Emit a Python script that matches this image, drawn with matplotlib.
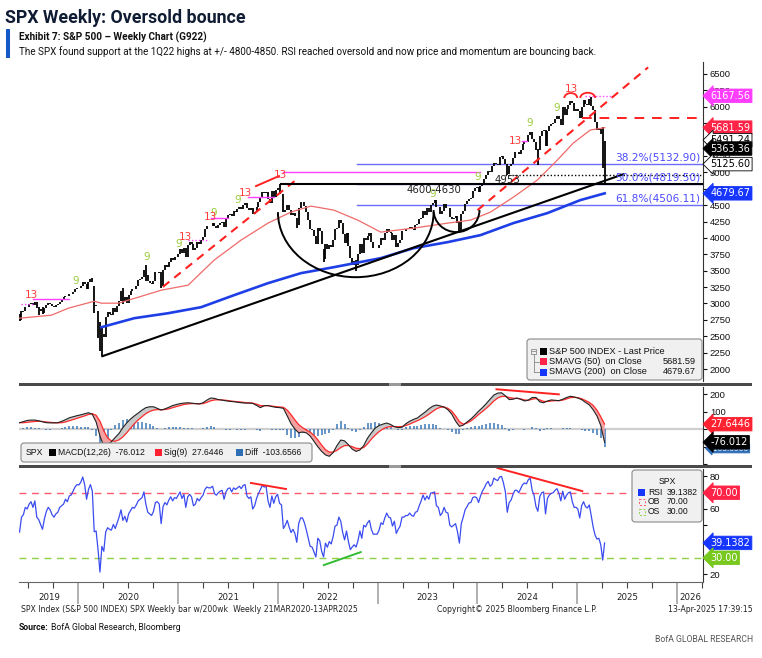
import numpy as np
import pandas as pd
import matplotlib
matplotlib.use("Agg")
import matplotlib.pyplot as plt
import matplotlib.transforms as mtrans
from matplotlib import font_manager
from matplotlib.patches import Arc, FancyBboxPatch, Rectangle
from matplotlib.lines import Line2D

# ---------------- data ----------------
# SPX weekly closes, week ending 31 May 2019 .. 11 Apr 2025
close_2019 = [2752, 2873, 2887, 2950, 2942, 2990, 3014, 2977, 3026, 2932, 2919, 2889, 2847, 2926, 2979, 3007,
              2992, 2962, 2952, 2970, 2986, 3023, 3067, 3093, 3120, 3110, 3141, 3146, 3169, 3221, 3240]
close_2020 = [3235, 3265, 3330, 3295, 3226, 3328, 3380, 3338, 2954, 2972, 2711, 2305, 2541, 2489, 2790, 2875,
              2837, 2831, 2930, 2864, 2955, 3044, 3194, 3041, 3098, 3009, 3130, 3185, 3225, 3216, 3271, 3351,
              3373, 3397, 3508, 3427, 3341, 3319, 3298, 3348, 3477, 3484, 3465, 3270, 3510, 3585, 3558, 3638,
              3699, 3663, 3709, 3703, 3756]
close_2021 = [3825, 3768, 3841, 3714, 3887, 3934, 3907, 3811, 3842, 3943, 3913, 3975, 4020, 4129, 4185, 4180,
              4181, 4233, 4174, 4156, 4204, 4230, 4247, 4166, 4281, 4352, 4370, 4327, 4412, 4395, 4437, 4468,
              4442, 4509, 4535, 4459, 4433, 4455, 4357, 4391, 4471, 4545, 4605, 4697, 4683, 4698, 4595, 4538,
              4712, 4621, 4726, 4766]
close_2022 = [4677, 4663, 4398, 4432, 4501, 4419, 4349, 4385, 4329, 4204, 4463, 4543, 4546, 4488, 4392, 4272,
              4132, 4123, 4024, 3901, 4158, 4109, 3901, 3675, 3912, 3825, 3899, 3863, 3962, 4130, 4145, 4280,
              4228, 4058, 3924, 4067, 3873, 3693, 3586, 3640, 3583, 3752, 3901, 3771, 3993, 3965, 4026, 4072,
              3934, 3852, 3845, 3840]
close_2023 = [3895, 3999, 3973, 4071, 4136, 4090, 4079, 3970, 4046, 3862, 3917, 3971, 4109, 4105, 4138, 4133,
              4169, 4136, 4124, 4192, 4205, 4282, 4299, 4410, 4348, 4450, 4399, 4505, 4536, 4582, 4478, 4464,
              4370, 4406, 4516, 4457, 4450, 4320, 4288, 4308, 4328, 4224, 4117, 4358, 4415, 4514, 4559, 4595,
              4604, 4719, 4755, 4770]
close_2024 = [4697, 4784, 4840, 4891, 4959, 5027, 5006, 5089, 5137, 5124, 5117, 5234, 5254, 5204, 5123, 4967,
              5100, 5128, 5223, 5303, 5305, 5278, 5347, 5432, 5465, 5460, 5567, 5615, 5505, 5459, 5346, 5344,
              5554, 5634, 5648, 5408, 5626, 5703, 5738, 5751, 5815, 5865, 5808, 5729, 5996, 5871, 5969, 6032,
              6090, 6051, 5931, 5971]
close_2025 = [5942, 5827, 5997, 6101, 6041, 6026, 6115, 6013, 5955, 5770, 5639, 5668, 5581, 5074, 5363.36]
first_open = 2826

# weekly extremes where the bar reaches well beyond open/close
wicks = {
    "2019-05-31": (2728, 2836), "2019-06-07": (2744, 2885), "2019-08-09": (2822, 2943),
    "2019-08-23": (2834, 2939), "2020-02-21": (3328, 3394), "2020-02-28": (2855, 3260),
    "2020-03-13": (2478, 2882), "2020-03-20": (2280, 2718), "2020-03-27": (2192, 2637),
    "2020-06-12": (2984, 3233), "2020-09-04": (3350, 3588), "2020-10-30": (3233, 3486),
    "2022-01-07": (4662, 4819), "2022-03-11": (4157, 4303), "2022-06-17": (3637, 3838),
    "2022-10-14": (3492, 3666), "2023-10-27": (4104, 4256), "2024-04-19": (4954, 5127),
    "2024-08-09": (5119, 5363), "2024-09-06": (5402, 5651), "2025-02-21": (6009, 6147),
    "2025-04-04": (5069, 5695), "2025-04-11": (4835, 5481),
}

# weekly RSI(14)
rsi_2019 = [45.8, 55, 56.5, 61, 60, 63, 64.5, 61, 65, 55, 53.5, 50.5, 47.5, 54, 58.5, 61, 59.5, 56.5, 55, 57,
            58, 61, 62, 63, 66, 64.5, 68, 68.6, 71, 73.5, 75]
rsi_2020 = [74.8, 76.5, 79.7, 75, 66, 72, 75, 71, 46, 46.5, 35, 21.2, 37, 34, 45.8, 48.5, 47.5, 47, 50.5, 48,
            51.5, 55, 59.5, 53, 55.5, 52, 57, 59, 61, 60.5, 62.5, 65, 66, 67, 70.5, 63, 58, 57, 56, 58.5,
            64, 64.5, 63, 51, 61.5, 64, 62.5, 65.5, 67.5, 65, 67, 66.5, 68.5]
rsi_2021 = [70.5, 66.5, 69, 61, 67.5, 69, 67.5, 62, 63, 66.5, 65, 67, 68.5, 72, 73.5, 73, 73, 74, 69.5, 68.5,
            70, 71, 71.5, 66, 70.5, 72.5, 73, 70.5, 73, 72, 73, 74, 72.5, 74.5, 75, 68, 66.5, 67.5, 60, 62,
            66.5, 69.5, 72, 74.5, 73.5, 73.8, 65, 61, 68, 63.5, 67.5, 69]
rsi_2022 = [63.5, 62.5, 48, 50, 53, 49, 45.5, 47.5, 45, 39.5, 51, 54.5, 54.5, 51.5, 47, 42, 37, 36.6, 33.5, 30.5,
            42, 40.5, 34, 30.5, 39, 36.5, 40, 38.5, 43, 49.5, 50, 55, 52.5, 45.5, 41, 46.5, 40, 35, 36.6, 38,
            36.6, 40.5, 46.5, 42, 50, 49, 51.5, 53, 47.5, 44.5, 44.5, 44.5]
rsi_2023 = [47, 51.5, 50.5, 54.5, 57.5, 55, 54.5, 49.5, 52.5, 45, 47.5, 49.5, 55, 55, 56, 56, 57.5, 56, 55.5, 58,
            58.5, 62, 65, 68.6, 65.5, 68, 66, 69.8, 70, 70.5, 62, 61, 56, 57.5, 61, 58, 57.5, 50, 49, 50,
            51, 46, 39, 51, 55, 59.5, 61.5, 63.7, 64, 67, 67.5, 67]
rsi_2024 = [64, 68, 71, 73, 75.5, 77, 74, 75, 79, 78, 77.5, 79.7, 80, 76, 70.6, 58, 64, 65.5, 69, 71.5,
            71.5, 70, 72.5, 75, 76, 75.5, 78, 79, 71.5, 68.5, 61.5, 58.6, 67.6, 70, 70.5, 57, 66.5, 68.6, 69.6, 70,
            71.5, 72.5, 69.6, 65, 71, 66, 68.5, 70, 70.5, 64.5, 61, 61]
rsi_2025 = [60, 54.5, 62, 64.5, 61.5, 60.6, 62.5, 56, 49, 44, 41.5, 42, 38, 28.6, 39.1382]

# MACD(12,26) and Sig(9), every second week from 31 May 2019
macd_line = [36, 42, 49, 51, 51, 47, 41, 36, 35, 35,
             36, 44, 53, 64, 70, 76, 81, 87, 93, 84,
             40, -40, -98, -100, -72, -48, -25, 8, 35, 57,
             75, 91, 108, 122, 127, 127, 118, 108, 115, 124,
             134, 140, 145, 148, 150, 148, 145, 143, 150, 165,
             177, 175, 168, 165, 161, 158, 156, 153, 150, 148,
             148, 146, 135, 122, 133, 134, 128, 124, 122, 118,
             75, 30, 0, -22, -17, -22, -40, -70, -101, -128,
             -148, -156, -135, -95, -63, -68, -90, -115, -128, -120,
             -95, -52, -22, 5, 20, 28, 34, 26, 13, 8,
             10, 30, 44, 55, 63, 80, 96, 115, 130, 137,
             132, 125, 110, 85, 45, 15, 22, 40, 57, 78,
             102, 122, 145, 170, 194, 205, 207, 190, 168, 170,
             177, 170, 160, 165, 180, 180, 155, 150, 160, 166,
             164, 162, 170, 180, 187, 183, 177, 168, 152, 138,
             110, 75, 20, -76.012]
sig_line = [36,
            36, 38, 41, 43, 44, 43, 40, 38, 36, 35,
            36, 40, 47, 54, 61, 68, 75, 83, 88, 78,
            45, -10, -50, -68, -70, -62, -45, -22, 5, 30,
            52, 70, 88, 100, 108, 111, 110, 111, 115, 122,
            128, 134, 140, 143, 145, 145, 144, 145, 152, 161,
            166, 167, 166, 164, 161, 158, 156, 154, 151, 150,
            148, 142, 134, 133, 133, 131, 128, 126, 124, 108,
            82, 52, 25, 8, -6, -18, -36, -62, -92, -118,
            -132, -132, -122, -106, -95, -94, -101, -110, -112, -106,
            -85, -58, -35, -15, 0, 10, 14, 14, 13, 14,
            20, 28, 38, 47, 58, 70, 84, 100, 115, 124,
            126, 118, 102, 75, 42, 28, 34, 46, 63, 83,
            100, 118, 138, 160, 177, 186, 186, 180, 176, 175,
            172, 166, 164, 170, 174, 166, 158, 157, 160, 162,
            162, 165, 172, 179, 181, 179, 173, 163, 152, 135,
            108, 70, 27.6446]

# moving averages (decimal year, level)
sma50_t = [2019.41, 2019.73, 2019.90, 2020.16, 2020.23, 2020.40, 2020.60, 2020.83, 2021.10, 2021.36, 2021.63,
           2021.90, 2022.13, 2022.33, 2022.56, 2022.80, 2023.03, 2023.36, 2023.70, 2023.93, 2024.13, 2024.36,
           2024.60, 2024.80, 2024.96, 2025.13, 2025.275]
sma50_v = [2775, 2821, 2928, 3034, 3004, 3004, 3095, 3202, 3279, 3660, 3966, 4225, 4393, 4485, 4424, 4271,
           4088, 4149, 4225, 4271, 4393, 4622, 4882, 5187, 5447, 5645, 5681.59]
sma200_t = [2020.23, 2020.56, 2020.90, 2021.23, 2021.56, 2021.90, 2022.23, 2022.56, 2023.03, 2023.36, 2023.70,
            2024.03, 2024.36, 2024.70, 2025.03, 2025.275]
sma200_v = [2637, 2775, 2851, 2943, 3126, 3309, 3462, 3553, 3691, 3843, 3935, 4042, 4226, 4378, 4576, 4679.67]

# DeMark-style count labels
td9_t = [2019.97, 2020.68, 2021.01, 2021.36, 2021.60, 2023.55, 2024.00, 2024.52, 2024.79]
td9_v = [3340, 3706, 3905, 4378, 4576, 4668, 4927, 5752, 5981]
td13_t = [2019.53, 2021.07, 2021.32, 2021.67, 2022.03, 2024.38, 2024.94]
td13_v = [3126, 4019, 4317, 4683, 4958, 5477, 6271]
# magenta count levels: start, end, level, dotted
td_levels = [(2019.43, 2019.55, 2990, True), (2019.55, 2019.91, 3065, False), (2021.10, 2021.31, 3966, True),
             (2021.33, 2021.50, 4302, False), (2021.70, 2021.96, 4622, False), (2022.05, 2024.03, 5004, False),
             (2024.45, 2024.50, 5477, False), (2025.08, 2025.35, 6167.56, True)]

fib_names = ["38.2%", "50.0%", "61.8%"]
fib_vals = [5132.90, 4819.50, 4506.11]
support_2022 = 4818
low_apr24 = 4953
neckline = 5835

main_tags = [("6167.56", 6167.56, "#ff3dff", "white"), ("5681.59", 5681.59, "#ff2447", "white"),
             ("5491.24", 5491.24, "white", "black"), ("5363.36", 5363.36, "black", "white"),
             ("5125.60", 5125.60, "white", "black"), ("4679.67", 4679.67, "#1636ff", "white")]
macd_tags = [("-103.6566", -103.6566, "#2f6db5", "white"), ("27.6446", 27.6446, "#ff2030", "white"),
             ("-76.012", -76.012, "black", "white")]
rsi_tags = [("70.00", 70, "#ff2447", "white"), ("39.1382", 39.1382, "#1636ff", "white"),
            ("30.00", 30, "#78c81e", "white")]

# ---------------- derived arrays ----------------
closes = np.array(close_2019 + close_2020 + close_2021 + close_2022 + close_2023 + close_2024 + close_2025, float)
rsi = np.array(rsi_2019 + rsi_2020 + rsi_2021 + rsi_2022 + rsi_2023 + rsi_2024 + rsi_2025)
weeks = pd.date_range("2019-05-31", periods=len(closes), freq="W-FRI")
t = np.asarray(weeks.year + (weeks.dayofyear - 1) / 365.25)
opens = np.concatenate([[first_open], closes[:-1]])
lo = np.minimum(opens, closes)
hi = np.maximum(opens, closes)
for d, (l, h) in wicks.items():
    k = weeks.get_loc(pd.Timestamp(d))
    lo[k], hi[k] = l, h
macd = np.array(macd_line)
sig = np.array(sig_line)
tm = t[::2]

# ---------------- figure ----------------
names = {f.name for f in font_manager.fontManager.ttflist}
HEAD = "Roboto" if "Roboto" in names else "Liberation Sans"
BB = "Liberation Sans"
plt.rcParams["font.family"] = ["DejaVu Sans"]

W, H = 762, 658
fig = plt.figure(figsize=(W / 100, H / 100), dpi=100)
pxT = mtrans.Affine2D().scale(1 / W, -1 / H).translate(0, 1) + fig.transFigure


def px_axes(x0, y0, x1, y1):
    return fig.add_axes([x0 / W, 1 - y1 / H, (x1 - x0) / W, (y1 - y0) / H])


ax = px_axes(19, 62, 703, 381)
axm = px_axes(19, 387, 703, 464)
axr = px_axes(19, 469, 703, 582)
XL = (2019.405, 2026.26)

for a in (ax, axm, axr):
    a.set_xlim(*XL)
    a.yaxis.tick_right()
    for s in ("left", "top", "bottom"):
        a.spines[s].set_visible(False)
    a.spines["right"].set_color("#333333")
    a.spines["right"].set_linewidth(0.8)
    a.tick_params(axis="y", labelsize=6.8, length=3, width=0.8, pad=2, colors="#111111")
for a in (ax, axm):
    a.tick_params(axis="x", bottom=False, labelbottom=False)


def tag(a, text, val, fc, tc, size=7):
    a.annotate(text, xy=(1, val), xycoords=a.get_yaxis_transform(), xytext=(5.2, 0),
               textcoords="offset points", ha="left", va="center", fontsize=size, color=tc,
               zorder=30, annotation_clip=False,
               bbox=dict(boxstyle="larrow,pad=0.18", fc=fc, ec="black" if fc == "white" else fc, lw=0.6))


# ---- main price panel ----
ax.set_ylim(1817, 6683)
ticks_main = list(range(2000, 6501, 250))
ax.set_yticks(ticks_main)
# labels sitting under the last-value tags are hidden in the original
ax.set_yticklabels(["" if v in (5750, 5500) else str(v) for v in ticks_main], fontfamily=BB)
ax.vlines(t, lo, hi, color="black", lw=1.3, zorder=3)
ax.plot(sma50_t, sma50_v, color="#f06a6a", lw=0.9, zorder=4)
ax.plot(sma200_t, sma200_v, color="#1f3fe6", lw=1.9, zorder=4)

red = "#ff2020"
ax.plot([2020.847, 2022.18], [3253, 4882], color=red, lw=1.5, ls=(0, (4, 3)), zorder=5)
ax.plot([2024.0, 2025.71], [4423, 6602], color=red, lw=1.5, ls=(0, (4, 3)), zorder=5, clip_on=False)
ax.plot([2021.78, 2022.01], [4790, 4943], color=red, lw=1.4, zorder=5)
ax.plot([2025.05, XL[1]], [neckline, neckline], color=red, lw=1.4, ls=(0, (5, 4)), zorder=5)
ax.add_patch(Arc((2024.935, 6134), 0.13, 150, theta1=0, theta2=180, color=red, lw=1.3, zorder=6))
ax.add_patch(Arc((2025.105, 6134), 0.15, 160, theta1=0, theta2=180, color=red, lw=1.3, zorder=6))

ax.plot([2020.24, 2025.46], [2195, 4970], color="black", lw=1.5, zorder=5)
ax.plot([2022.03, XL[1]], [support_2022, support_2022], color="black", lw=1.5, zorder=5)
ax.plot([2024.28, XL[1]], [low_apr24, low_apr24], color="black", lw=1.0, ls=(0, (1, 1.5)), zorder=5)
ax.add_patch(Arc((2022.78, 4393), 1.56, 1985, theta1=180, theta2=360, color="black", lw=1.4, zorder=5))
ax.add_patch(Arc((2023.79, 4424), 0.46, 672, theta1=180, theta2=360, color="black", lw=1.4, zorder=5))

for x0, x1, lv, dotted in td_levels:
    ax.plot([x0, x1], [lv, lv], color="#ff40ff", lw=1.0, ls=(0, (1, 1.5)) if dotted else "-", zorder=4)

for name, v in zip(fib_names, fib_vals):
    ax.plot([2022.79, XL[1]], [v, v], color="#6c6cff", lw=1.0, zorder=2)
    ax.annotate(f"{name}({v:.2f})", xy=(2026.23, v), xytext=(0, 1), textcoords="offset points",
                ha="right", va="bottom", fontsize=7.6, color="#4b4bff", zorder=6)

for x, v in zip(td9_t, td9_v):
    ax.text(x, v, "9", color="#9ccc3c", fontsize=7.5, ha="center", va="center", zorder=7)
for x, v in zip(td13_t, td13_v):
    ax.text(x, v, "13", color="#ff3a3a", fontsize=7.5, ha="center", va="center", zorder=7)
ax.text(2023.56, 4729, "4600-4630", fontsize=7.3, color="#222222", ha="center", va="center", zorder=7)
ax.text(2024.30, 4885, "4953", fontsize=7.3, color="#222222", ha="center", va="center", zorder=7)

for text, v, fc, tc in main_tags:
    tag(ax, text, v, fc, tc)

# ---- MACD panel ----
axm.set_ylim(-200, 240)
axm.set_yticks([-200, -100, 0, 100, 200])
axm.set_yticklabels(["", "", "0", "100", "200"], fontfamily=BB)
axm.axhline(0, color="#cfcfcf", lw=1.6, zorder=0)
axm.vlines(tm, 0, macd - sig, color="#3a78b8", lw=1.1, zorder=1)
axm.fill_between(tm, macd, sig, where=macd >= sig, interpolate=True, color="#c9c9c9", lw=0, zorder=2)
axm.fill_between(tm, macd, sig, where=macd < sig, interpolate=True, color="#f5a0a0", lw=0, zorder=2)
axm.plot(tm, sig, color="#ff2a2a", lw=0.9, zorder=3)
axm.plot(tm, macd, color="#222222", lw=0.8, zorder=4)
axm.plot([2024.19, 2024.815], [227, 198], color=red, lw=1.4, zorder=5, clip_on=False)
tag(axm, macd_tags[0][0], macd_tags[0][1] - 8, macd_tags[0][2], macd_tags[0][3], size=5.4)
for text, v, fc, tc in macd_tags[1:]:
    tag(axm, text, v, fc, tc)

# ---- RSI panel ----
axr.set_ylim(15.1, 84.6)
axr.set_yticks([20, 40, 60, 80])
axr.set_yticklabels(["20", "", "60", "80"], fontfamily=BB)
axr.set_yticks([30, 50, 70], minor=True)
axr.tick_params(axis="y", which="minor", length=3, width=0.8, right=True, left=False)
axr.plot(t, rsi, color="#3a4cf0", lw=0.9, zorder=3)
axr.axhline(70, color="#ff5a6e", lw=1.0, ls=(0, (5, 4)), zorder=2)
axr.axhline(30, color="#8fd147", lw=1.0, ls=(0, (5, 4)), zorder=2)
axr.plot([2021.73, 2022.08], [76, 72.3], color=red, lw=1.4, zorder=4)
axr.plot([2022.46, 2022.83], [25.5, 33.5], color="#33bb33", lw=1.4, zorder=4)
axr.plot([2024.20, 2025.05], [85.2, 71], color=red, lw=1.4, zorder=4, clip_on=False)
for text, v, fc, tc in rsi_tags:
    tag(axr, text, v, fc, tc)

axr.spines["bottom"].set_visible(True)
axr.spines["bottom"].set_color("#666666")
axr.spines["bottom"].set_linewidth(0.8)
axr.set_xticks(range(2020, 2027))
axr.set_xticklabels([])
axr.set_xticks(np.arange(2019.5, 2026.3, 0.25), minor=True)
axr.tick_params(axis="x", which="major", length=16, width=1.3, color="#aaaaaa")
axr.tick_params(axis="x", which="minor", length=4, width=0.8, color="#444444")
bx = mtrans.blended_transform_factory(axr.transData, axr.transAxes)
year_pos = [2019.71, 2020.5, 2021.5, 2022.5, 2023.5, 2024.5, 2025.5, 2026.13]
for yv, xp in zip(range(2019, 2027), year_pos):
    axr.text(xp, -0.14, str(yv), transform=bx, ha="center", va="center", fontsize=6.2, color="#222222")

# ---- separators ----
for yy in (382.5, 464.5):
    fig.add_artist(Rectangle((19, yy), 733, 3, transform=pxT, color="#4a4a4a", lw=0))
    fig.add_artist(Rectangle((389, yy), 12, 3, transform=pxT, color="#9a9a9a", lw=0))

# ---- legends ----
legkw = dict(transform=pxT, fontfamily=BB, fontsize=6.6, color="#111111", va="center")
fig.add_artist(FancyBboxPatch((527, 339), 175, 41, boxstyle="round,pad=0,rounding_size=3", transform=pxT,
                              fc="#f0f0f0", ec="#8a8a8a", lw=0.8))
rows = [(351, "black", "S&P 500 INDEX - Last Price", ""),
        (361.5, "#ff2447", "SMAVG (50)  on Close", "5681.59"),
        (372, "#1636ff", "SMAVG (200)  on Close", "4679.67")]
fig.add_artist(Rectangle((531, 348.5), 5, 5, transform=pxT, fc="none", ec="#888888", lw=0.6))
fig.add_artist(Line2D([532, 535], [351, 351], transform=pxT, color="#888888", lw=0.6))
fig.add_artist(Line2D([533.5, 533.5], [353.5, 372], transform=pxT, color="#888888", lw=0.6))
for ry in (361.5, 372):
    fig.add_artist(Line2D([533.5, 539], [ry, ry], transform=pxT, color="#888888", lw=0.6))
for ry, c, lab, val in rows:
    fig.add_artist(Rectangle((540, ry - 3.5), 7, 7, transform=pxT, color=c, lw=0))
    fig.text(549, ry, lab, **legkw)
    if val:
        fig.text(696, ry, val, ha="right", **legkw)

smallkw = dict(legkw, fontsize=6.2)
fig.add_artist(FancyBboxPatch((21, 443), 291, 19, boxstyle="round,pad=0,rounding_size=3", transform=pxT,
                              fc="#f0f0f0", ec="#8a8a8a", lw=0.8))
my = 452.5
fig.text(26, my, "SPX", **smallkw)
for sx, c in ((49, "black"), (155, "#ff2030"), (236, "#2f6db5")):
    fig.add_artist(Rectangle((sx, my - 3.5), 7, 7, transform=pxT, color=c, lw=0))
for sx, s in ((58, "MACD(12,26)  -76.012"), (164, "Sig(9)  27.6446"), (245, "Diff  -103.6566")):
    fig.text(sx, my, s, **smallkw)

fig.add_artist(FancyBboxPatch((632, 470), 70, 52, boxstyle="round,pad=0,rounding_size=3", transform=pxT,
                              fc="#f0f0f0", ec="#8a8a8a", lw=0.8))
fig.text(667, 481, "SPX", ha="center", **smallkw)
fig.add_artist(Rectangle((638, 489), 7, 7, transform=pxT, color="#1636ff", lw=0))
fig.add_artist(Rectangle((638.5, 499), 6, 6, transform=pxT, fc="none", ec="#ff5a6e", lw=0.7, ls=(0, (2, 2))))
fig.add_artist(Rectangle((638.5, 509), 6, 6, transform=pxT, fc="none", ec="#8fd147", lw=0.7, ls=(0, (2, 2))))
for ry, a_, b_ in ((492.5, "RSI", "39.1382"), (502, "OB", "70.00"), (512, "OS", "30.00")):
    fig.text(648, ry, a_, **smallkw)
    fig.text(667, ry, b_, **smallkw)

# ---- header / footer ----
navy = "#101c33"
fig.text(5, 18, "SPX Weekly: Oversold bounce", transform=pxT, fontfamily=HEAD, fontsize=12.8,
         fontweight="bold", color=navy, va="center")
fig.add_artist(Rectangle((6, 29), 4, 29, transform=pxT, color="#1558c8", lw=0))
fig.text(19, 37, "Exhibit 7: S&P 500 \u2013 Weekly Chart (G922)", transform=pxT, fontfamily=HEAD,
         fontsize=7.2, fontweight="bold", color="#111111", va="center")
fig.text(19, 52, "The SPX found support at the 1Q22 highs at +/- 4800-4850. RSI reached oversold and now price "
         "and momentum are bouncing back.", transform=pxT, fontfamily=HEAD, fontsize=7.15,
         color="#111111", va="center")

footkw = dict(transform=pxT, fontsize=5.6, color="#222222", va="center")
fig.text(21, 609, "SPX Index (S&P 500 INDEX) SPX Weekly bar w/200wk  Weekly 21MAR2020-13APR2025", **footkw)
fig.text(437, 609, "Copyright\u00a9 2025 Bloomberg Finance L.P.", **footkw)
fig.text(753, 609, "13-Apr-2025 17:39:15", ha="right", **footkw)
fig.text(19, 628, "Source:", transform=pxT, fontfamily=HEAD, fontsize=6.2, fontweight="bold",
         color="#111111", va="center")
fig.text(51, 628, "BofA Global Research, Bloomberg", transform=pxT, fontfamily=HEAD, fontsize=6.2,
         color="#111111", va="center")
fig.text(753, 639, "BofA GLOBAL RESEARCH", transform=pxT, fontfamily=HEAD, fontsize=6.2,
         color="#555555", va="center", ha="right")

fig.savefig("out.png", dpi=100)
